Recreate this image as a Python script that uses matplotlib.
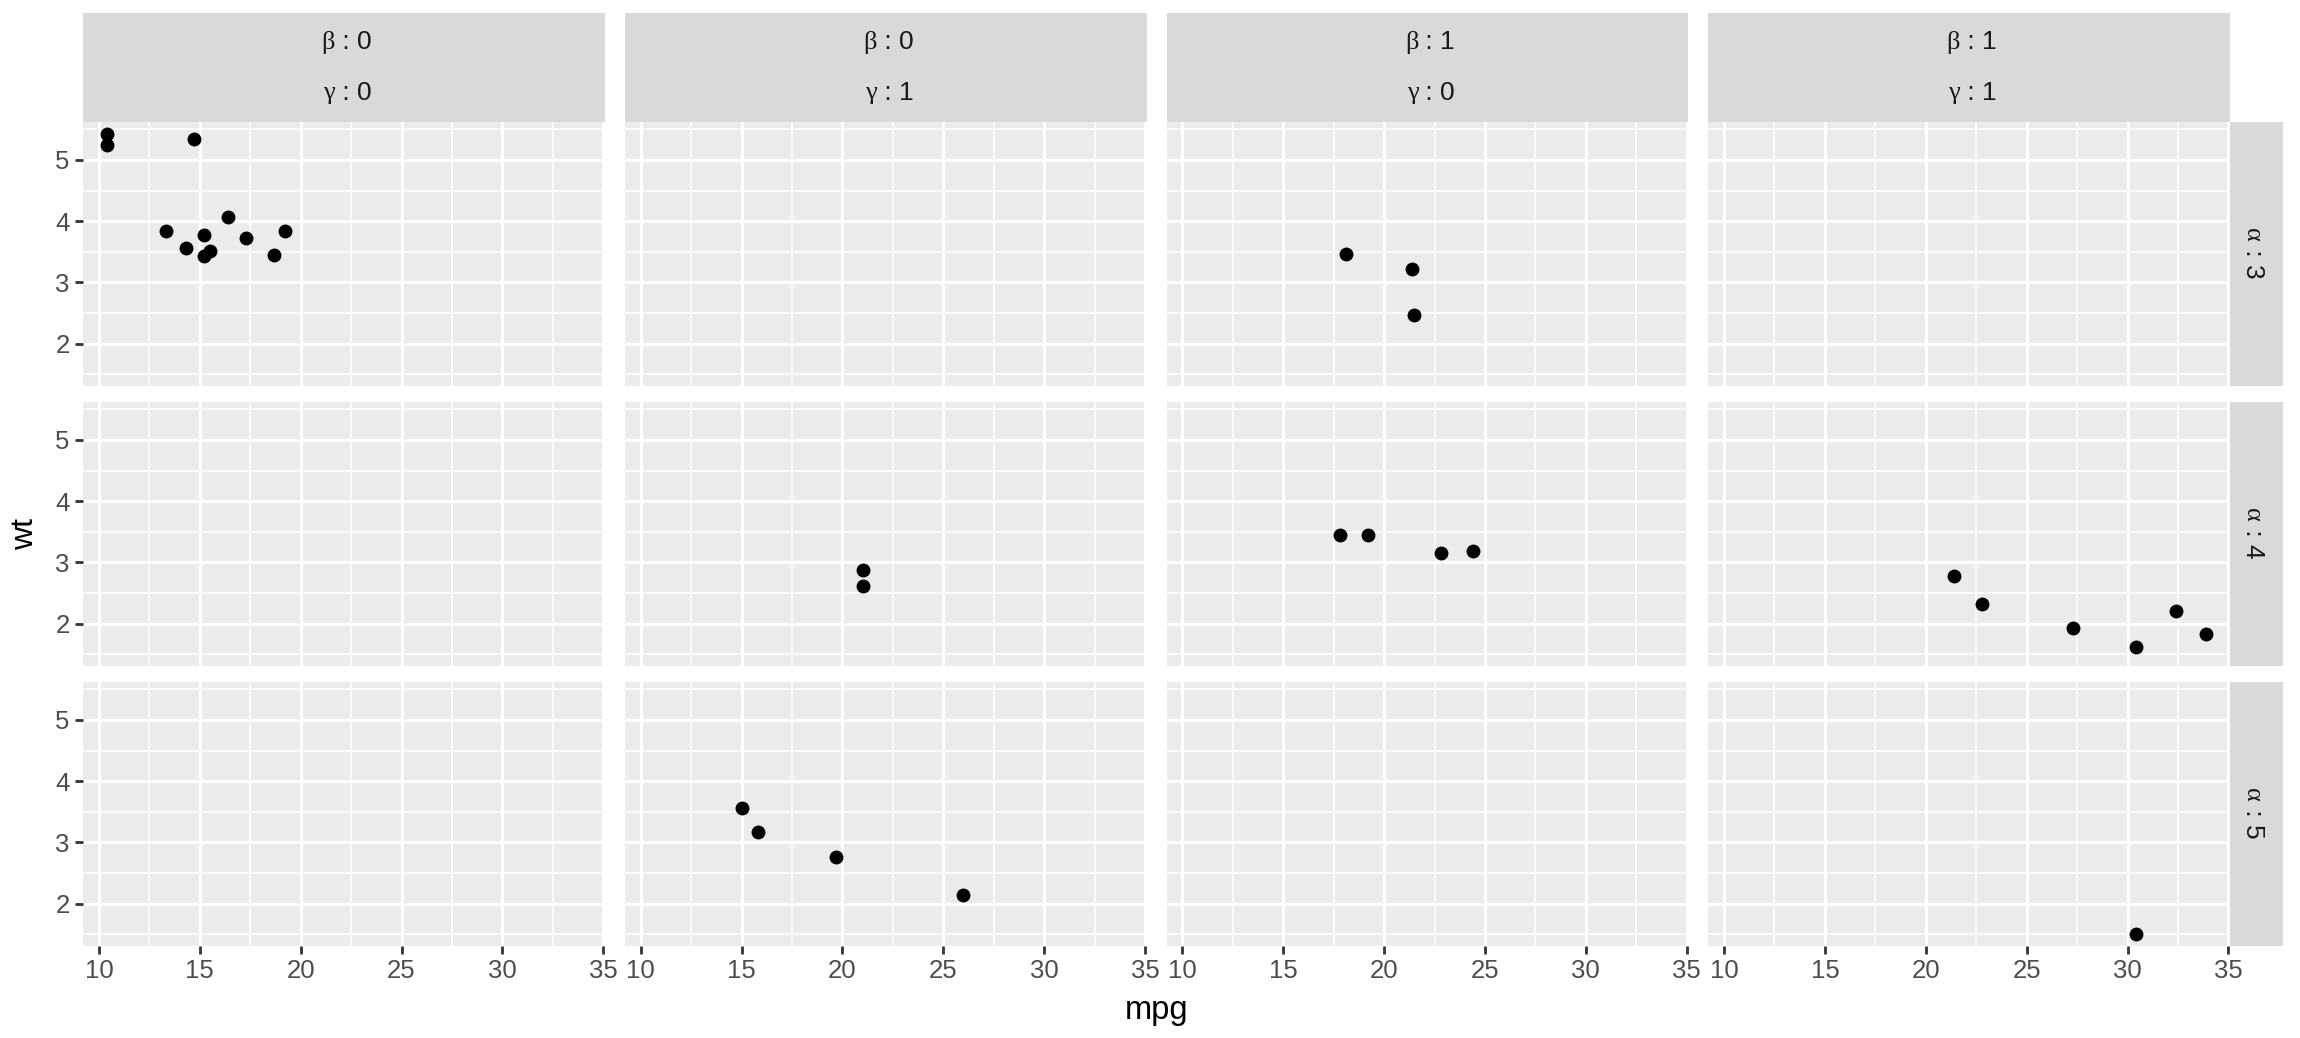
import numpy as np
import matplotlib
matplotlib.use("Agg")
import matplotlib.pyplot as plt
from matplotlib.patches import Rectangle

# ---- data (mtcars) ----
mpg = [21.0, 21.0, 22.8, 21.4, 18.7, 18.1, 14.3, 24.4, 22.8, 19.2, 17.8, 16.4, 17.3, 15.2, 10.4, 10.4,
       14.7, 32.4, 30.4, 33.9, 21.5, 15.5, 15.2, 13.3, 19.2, 27.3, 26.0, 30.4, 15.8, 19.7, 15.0, 21.4]
wt = [2.620, 2.875, 2.320, 3.215, 3.440, 3.460, 3.570, 3.190, 3.150, 3.440, 3.440, 4.070, 3.730, 3.780,
      5.250, 5.424, 5.345, 2.200, 1.615, 1.835, 2.465, 3.520, 3.435, 3.840, 3.845, 1.935, 2.140, 1.513,
      3.170, 2.770, 3.570, 2.780]
vs = [0, 0, 1, 1, 0, 1, 0, 1, 1, 1, 1, 0, 0, 0, 0, 0, 0, 1, 1, 1, 1, 0, 0, 0, 0, 1, 0, 1, 0, 0, 0, 1]
am = [1, 1, 1, 0, 0, 0, 0, 0, 0, 0, 0, 0, 0, 0, 0, 0, 0, 1, 1, 1, 0, 0, 0, 0, 0, 1, 1, 1, 1, 1, 1, 1]
gear = [4, 4, 4, 3, 3, 3, 3, 4, 4, 4, 4, 3, 3, 3, 3, 3, 3, 4, 4, 4, 3, 3, 3, 3, 3, 4, 5, 5, 5, 5, 5, 4]

col_beta = [0, 0, 1, 1]
col_gamma = [0, 1, 0, 1]
row_alpha = [3, 4, 5]
x_ticks = [10, 15, 20, 25, 30, 35]
y_ticks = [2, 3, 4, 5]

mpg_a = np.array(mpg); wt_a = np.array(wt)
vs_a = np.array(vs); am_a = np.array(am); gear_a = np.array(gear)

# ---- layout ----
W, H = 2300, 1038
fig = plt.figure(figsize=(W / 100, H / 100), dpi=100)
fig.patch.set_facecolor('white')

SANS = ['Liberation Sans', 'DejaVu Sans']
SERIF = ['Liberation Serif', 'DejaVu Serif']

def fx(x):
    return x / W

def fy(y):
    return 1 - y / H

def rect(l, t, w, h):
    return [l / W, 1 - (t + h) / H, w / W, h / H]

left0, pitch_x, pw = 83.3, 541.7, 521.5
top0, pitch_y, ph = 122.0, 280.0, 263.5
strip_top = 13.0
strip_w = 53.5

xr = mpg_a.max() - mpg_a.min()
xlim = (mpg_a.min() - 0.05 * xr, mpg_a.max() + 0.05 * xr)
yr = wt_a.max() - wt_a.min()
ylim = (wt_a.min() - 0.05 * yr, wt_a.max() + 0.05 * yr)

x_minor = [(a + b) / 2 for a, b in zip(x_ticks[:-1], x_ticks[1:])]
y_minor = [1.5] + [(a + b) / 2 for a, b in zip(y_ticks[:-1], y_ticks[1:])] + [5.5]

tick_color = '#333333'
label_color = '#4D4D4D'
fs_tick = 18.5

for r, alpha in enumerate(row_alpha):
    for c in range(4):
        b, g = col_beta[c], col_gamma[c]
        l = left0 + c * pitch_x
        t = top0 + r * pitch_y
        ax = fig.add_axes(rect(l, t, pw, ph))
        ax.set_facecolor('#EBEBEB')
        for s in ax.spines.values():
            s.set_visible(False)
        ax.set_xlim(*xlim)
        ax.set_ylim(*ylim)
        ax.set_xticks(x_ticks)
        ax.set_yticks(y_ticks)
        ax.set_xticks(x_minor, minor=True)
        ax.set_yticks(y_minor, minor=True)
        ax.grid(which='major', color='white', linewidth=2.2)
        ax.grid(which='minor', color='white', linewidth=1.1)
        ax.set_axisbelow(True)
        ax.tick_params(which='minor', length=0)
        ax.tick_params(which='major', length=5.8, width=2.0, color=tick_color,
                       labelsize=fs_tick, labelcolor=label_color, pad=4.0)
        for lab in ax.get_xticklabels() + ax.get_yticklabels():
            lab.set_family(SANS)
        if r != len(row_alpha) - 1:
            ax.tick_params(axis='x', which='major', length=0, labelbottom=False)
        if c != 0:
            ax.tick_params(axis='y', which='major', length=0, labelleft=False)
        m = (vs_a == b) & (am_a == g) & (gear_a == alpha)
        ax.scatter(mpg_a[m], wt_a[m], s=100, color='black', linewidths=0, zorder=3, clip_on=False)

# ---- top strips ----
fs_strip = 19
for c in range(4):
    l = left0 + c * pitch_x
    fig.patches.append(Rectangle((fx(l), fy(top0)), pw / W, (top0 - strip_top) / H,
                                 transform=fig.transFigure, facecolor='#D9D9D9',
                                 edgecolor='none', zorder=0))
    cx = l + pw / 2
    split = cx - 9
    for greek, val, base in (('β', col_beta[c], 49.0), ('γ', col_gamma[c], 99.5)):
        fig.text(fx(split), fy(base), greek, ha='right', va='baseline',
                 fontsize=fs_strip, color='#1A1A1A', family=SERIF)
        fig.text(fx(split), fy(base), ' : %d' % val, ha='left', va='baseline',
                 fontsize=fs_strip, color='#1A1A1A', family=SANS)

# ---- right strips ----
sx = left0 + 3 * pitch_x + pw
for r, alpha in enumerate(row_alpha):
    t = top0 + r * pitch_y
    fig.patches.append(Rectangle((fx(sx), fy(t + ph)), strip_w / W, ph / H,
                                 transform=fig.transFigure, facecolor='#D9D9D9',
                                 edgecolor='none', zorder=0))
    cy = t + ph / 2
    split = cy - 12
    bx = sx + 16.0
    fig.text(fx(bx), fy(split), 'α', ha='right', va='baseline', rotation=270,
             rotation_mode='anchor', fontsize=fs_strip, color='#1A1A1A', family=SERIF)
    fig.text(fx(bx), fy(split), ' : %d' % alpha, ha='left', va='baseline', rotation=270,
             rotation_mode='anchor', fontsize=fs_strip, color='#1A1A1A', family=SANS)

# ---- axis titles ----
fig.text(fx(25), fy(top0 + (2 * pitch_y + ph) / 2), 'wt', rotation=90, ha='center', va='center',
         fontsize=23, color='black', family=SANS)
fig.text(fx(left0 + (3 * pitch_x + pw) / 2), fy(1011), 'mpg', ha='center', va='center',
         fontsize=23.5, color='black', family=SANS)

fig.savefig('out.png', dpi=100, facecolor='white')
